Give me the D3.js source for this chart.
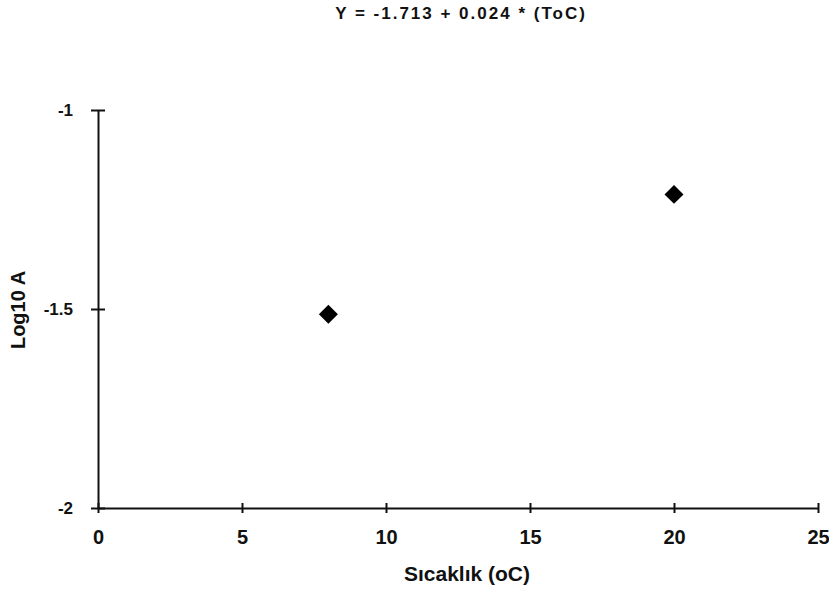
<!DOCTYPE html>
<html>
<head>
<meta charset="utf-8">
<script src="https://cdn.jsdelivr.net/npm/d3@7"></script>
<style>
  body { margin: 0; background: #fff; }
  text { font-family: "Liberation Sans", Arial, sans-serif; font-weight: bold; fill: #111; }
</style>
</head>
<body>
<div id="chart"></div>
<script>
// data
var temps = [8, 20];
var logA = [-1.513, -1.212];
var xTicks = [0, 5, 10, 15, 20, 25];
var yTicks = [-1, -1.5, -2];
var title = "Y = -1.713 + 0.024 * (ToC)";

var W = 829, H = 591;
var margin = {top: 110, right: 11, bottom: 83, left: 98};
var width = W - margin.left - margin.right;
var height = H - margin.top - margin.bottom;

var svg = d3.select("#chart").append("svg")
    .attr("width", W)
    .attr("height", H);

var g = svg.append("g")
    .attr("transform", "translate(" + margin.left + "," + margin.top + ")");

var x = d3.scaleLinear().domain([0, 25]).range([0, width]);
var y = d3.scaleLinear().domain([-2, -1]).range([height, 0]);

// x axis, ticks crossing the line
var xAxis = g.append("g")
    .attr("transform", "translate(0," + height + ")")
    .call(d3.axisBottom(x).tickValues(xTicks).tickSize(0).tickPadding(22));
xAxis.select(".domain").attr("stroke", "#111").attr("stroke-width", 2);
xAxis.selectAll(".tick line").remove();
xAxis.selectAll(".tick").append("line")
    .attr("y1", -5).attr("y2", 5)
    .attr("stroke", "#111").attr("stroke-width", 2);
xAxis.selectAll("text").style("font-size", "20px").attr("fill", "#111");

// y axis (plain hyphen for the minus sign, like the original)
var yAxis = g.append("g")
    .call(d3.axisLeft(y).tickValues(yTicks).tickSize(0).tickPadding(25).tickFormat(d => String(d)));
yAxis.select(".domain").attr("stroke", "#111").attr("stroke-width", 2);
yAxis.selectAll(".tick line").remove();
yAxis.selectAll(".tick").append("line")
    .attr("x1", -7).attr("x2", 7)
    .attr("stroke", "#111").attr("stroke-width", 2);
yAxis.selectAll("text").style("font-size", "17px").attr("fill", "#111");

// points as diamonds
g.selectAll("path.pt")
    .data(temps)
    .enter()
    .append("path")
    .attr("class", "pt")
    .attr("d", d3.symbol().type(d3.symbolDiamond2).size(230))
    .attr("transform", (d, i) => "translate(" + x(d) + "," + y(logA[i]) + ")")
    .attr("fill", "#000");

// title
svg.append("text")
    .attr("x", 461)
    .attr("y", 19)
    .attr("text-anchor", "middle")
    .style("font-size", "17px")
    .style("letter-spacing", "2px")
    .text(title);

// axis labels
svg.append("text")
    .attr("x", 467)
    .attr("y", 581)
    .attr("text-anchor", "middle")
    .style("font-size", "21px")
    .text("Sıcaklık (oC)");

svg.append("text")
    .attr("transform", "translate(25,310) rotate(-90)")
    .attr("text-anchor", "middle")
    .style("font-size", "20px")
    .text("Log10 A");
</script>
</body>
</html>
